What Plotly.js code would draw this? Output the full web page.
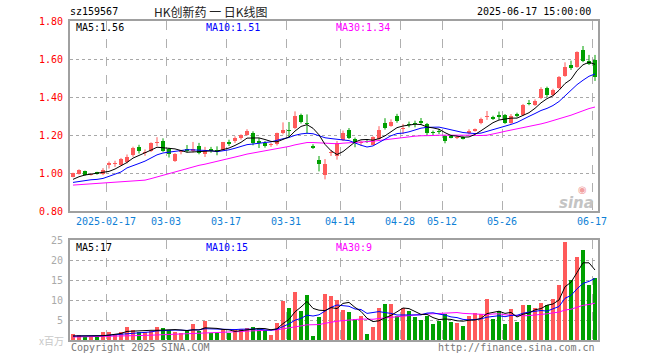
<!DOCTYPE html>
<html>
<head>
<meta charset="utf-8">
<script src="https://cdn.plot.ly/plotly-3.0.1.min.js"></script>
<style>html,body{margin:0;padding:0;background:#fff}#chart{width:660px;height:360px}</style>
</head>
<body>
<div id="chart"></div>
<script>
// ---- data ----
const dates = [
 '2025-02-07','2025-02-10','2025-02-11','2025-02-12','2025-02-13','2025-02-14',
 '2025-02-17','2025-02-18','2025-02-19','2025-02-20','2025-02-21',
 '2025-02-24','2025-02-25','2025-02-26','2025-02-27','2025-02-28',
 '2025-03-03','2025-03-04','2025-03-05','2025-03-06','2025-03-07',
 '2025-03-10','2025-03-11','2025-03-12','2025-03-13','2025-03-14',
 '2025-03-17','2025-03-18','2025-03-19','2025-03-20','2025-03-21',
 '2025-03-24','2025-03-25','2025-03-26','2025-03-27','2025-03-28',
 '2025-03-31','2025-04-01','2025-04-02','2025-04-03',
 '2025-04-07','2025-04-08','2025-04-09','2025-04-10','2025-04-11',
 '2025-04-14','2025-04-15','2025-04-16','2025-04-17','2025-04-18',
 '2025-04-21','2025-04-22','2025-04-23','2025-04-24','2025-04-25',
 '2025-04-28','2025-04-29','2025-04-30',
 '2025-05-06','2025-05-07','2025-05-08','2025-05-09',
 '2025-05-12','2025-05-13','2025-05-14','2025-05-15','2025-05-16',
 '2025-05-19','2025-05-20','2025-05-21','2025-05-22','2025-05-23',
 '2025-05-26','2025-05-27','2025-05-28','2025-05-29','2025-05-30',
 '2025-06-03','2025-06-04','2025-06-05','2025-06-06',
 '2025-06-09','2025-06-10','2025-06-11','2025-06-12','2025-06-13',
 '2025-06-16','2025-06-17'
];
const open = [
 0.982,0.996,1.012,0.992,1.005,0.994,1.046,1.050,1.046,1.060,
 1.094,1.140,1.106,1.119,1.160,1.170,1.127,1.065,1.110,1.126,
 1.117,1.145,1.100,1.130,1.121,1.121,1.167,1.168,1.184,1.203,
 1.212,1.165,1.160,1.148,1.156,1.210,1.225,1.237,1.307,1.263,
 1.144,1.072,0.991,1.105,1.092,1.175,1.228,1.181,1.160,1.170,
 1.151,1.181,1.267,1.249,1.304,1.232,1.257,1.262,1.274,1.260,
 1.212,1.222,1.195,1.190,1.185,1.186,1.211,1.225,1.263,1.298,
 1.296,1.305,1.305,1.267,1.314,1.305,1.369,1.360,1.396,1.449,
 1.412,1.449,1.512,1.570,1.561,1.649,1.593,1.597
];
const high = [
 1.003,1.021,1.014,0.998,1.008,1.027,1.062,1.066,1.081,1.099,
 1.140,1.150,1.126,1.163,1.190,1.184,1.134,1.106,1.123,1.149,
 1.165,1.160,1.139,1.139,1.142,1.165,1.177,1.195,1.205,1.232,
 1.221,1.186,1.170,1.160,1.214,1.268,1.270,1.326,1.314,1.310,
 1.153,1.091,1.075,1.123,1.170,1.225,1.238,1.188,1.172,1.178,
 1.195,1.248,1.290,1.284,1.313,1.260,1.272,1.277,1.291,1.265,
 1.225,1.234,1.202,1.202,1.200,1.195,1.232,1.236,1.293,1.328,
 1.303,1.325,1.312,1.312,1.319,1.365,1.386,1.389,1.453,1.456,
 1.445,1.512,1.584,1.593,1.642,1.670,1.623,1.623
];
const low = [
 0.979,0.993,0.988,0.988,0.993,0.990,1.025,1.034,1.040,1.052,
 1.087,1.104,1.092,1.112,1.143,1.113,1.083,1.060,1.100,1.110,
 1.110,1.100,1.086,1.108,1.095,1.118,1.144,1.160,1.177,1.198,
 1.147,1.133,1.135,1.139,1.146,1.205,1.190,1.232,1.262,1.209,
 1.128,1.010,0.968,1.091,1.072,1.170,1.180,1.137,1.145,1.160,
 1.148,1.176,1.230,1.245,1.266,1.207,1.242,1.242,1.256,1.198,
 1.198,1.207,1.158,1.184,1.180,1.178,1.205,1.219,1.258,1.281,
 1.281,1.281,1.260,1.260,1.295,1.302,1.358,1.355,1.390,1.400,
 1.405,1.445,1.508,1.544,1.555,1.585,1.570,1.486
];
const close = [
 1.000,1.018,0.991,0.995,0.995,1.020,1.049,1.053,1.076,1.087,
 1.135,1.117,1.113,1.158,1.163,1.119,1.099,1.103,1.115,1.119,
 1.126,1.108,1.118,1.118,1.112,1.163,1.154,1.186,1.200,1.223,
 1.160,1.162,1.144,1.150,1.212,1.228,1.221,1.300,1.272,1.259,
 1.133,1.049,1.047,1.107,1.158,1.210,1.186,1.163,1.165,1.166,
 1.190,1.228,1.237,1.272,1.274,1.234,1.254,1.258,1.263,1.210,
 1.210,1.219,1.168,1.188,1.193,1.183,1.225,1.233,1.286,1.300,
 1.288,1.295,1.267,1.302,1.300,1.360,1.366,1.382,1.446,1.410,
 1.439,1.507,1.560,1.556,1.639,1.593,1.575,1.505
];
// volume, millions
const volume = [
 1.5,1.25,0.65,0.8,0.65,2.0,2.0,1.5,2.0,3.25,
 2.5,2.1,2.0,2.25,3.25,3.0,2.5,2.0,1.75,2.5,
 4.0,2.25,4.75,1.75,1.75,2.75,1.75,2.75,2.75,3.0,
 3.25,2.75,2.5,1.25,4.25,9.75,8.0,12.0,7.25,11.25,
 1.0,5.75,11.5,11.0,10.0,7.5,7.0,5.25,6.0,1.5,
 3.25,8.0,9.0,9.0,6.0,8.0,7.25,5.75,5.0,6.0,
 4.0,4.75,6.5,4.5,4.25,3.5,6.0,6.75,6.5,10.25,
 5.25,7.25,4.0,7.75,4.5,8.75,8.75,8.0,9.25,8.75,
 10.25,13.75,24.5,15.0,20.75,22.5,13.75,15.5
];
// moving-average values before enough in-window data exists
const priceMA5Lead  = [0.968,0.982,0.991,0.995];
const priceMA10Lead = [0.952,0.957,0.961,0.966,0.968,0.973,0.984,0.995,1.007];
const priceMA30Lead = [0.938,0.940,0.942,0.944,0.946,0.948,0.950,0.952,0.954,0.956,
                       0.958,0.960,0.964,0.972,0.981,0.990,0.999,1.008,1.017,1.026,
                       1.035,1.042,1.048,1.055,1.061,1.069,1.077,1.085,1.093];
const volMA5Lead  = [1.0,1.0,1.0,1.0];
const volMA10Lead = [1.0,1.0,1.0,1.05,1.05,1.1,1.2,1.3,1.4];
const volMA30Lead = [0.75,0.77,0.79,0.81,0.83,0.85,0.87,0.9,0.95,1.0,
                     1.05,1.1,1.15,1.2,1.25,1.3,1.37,1.42,1.48,1.54,
                     1.6,1.67,1.73,1.8,1.86,1.92,1.98,2.05,2.12];
const tickDates  = ['2025-02-17','2025-03-03','2025-03-17','2025-03-31','2025-04-14','2025-04-28','2025-05-12','2025-05-26','2025-06-17'];
const tickLabels = ['2025-02-17','03-03','03-17','03-31','04-14','04-28','05-12','05-26','06-17'];
const priceTicks = [0.8,1.0,1.2,1.4,1.6,1.8];
const priceTickText = ['0.80','1.00','1.20','1.40','1.60','1.80'];
const volTicks = [5,10,15,20,25];
const volTickText = ['5','10','15','20','25'];

// ---- drawing ----
const RED = '#ff5a5a', GREEN = '#00a000';
const idx = dates.map((d, i) => i);
function ma(arr, n, lead) {
  return arr.map((v, i) => {
    if (i < n - 1) return lead[i];
    let s = 0; for (let k = i - n + 1; k <= i; k++) s += arr[k];
    return s / n;
  });
}
const up = close.map((c, i) => c >= open[i]);
const colors = up.map(u => u ? RED : GREEN);
const tickPos = tickDates.map(d => dates.indexOf(d) - 0.5);
const MONO = 'DejaVu Sans Mono';
const W = 660, H = 360;
const px = x => x / W, py = y => 1 - y / H;
const MIN_BODY = 0.006; // so a doji body still shows as a 1px line

function wickTrace(isUp) {
  const xs = [], ys = [];
  idx.forEach(i => { if (up[i] === isUp) { xs.push(i, i, null); ys.push(low[i], high[i], null); } });
  return {type:'scatter', mode:'lines', x: xs, y: ys, line:{color: isUp ? RED : GREEN, width:1},
          xaxis:'x', yaxis:'y', showlegend:false, hoverinfo:'skip', connectgaps:false};
}
const bodyBase = idx.map(i => Math.min(open[i], close[i]));
const bodyLen = idx.map(i => Math.max(Math.abs(close[i] - open[i]), MIN_BODY));

const traces = [
  wickTrace(true), wickTrace(false),
  {type:'bar', x: idx, y: bodyLen, base: bodyBase, width:0.82, marker:{color: colors, line:{width:0}},
   xaxis:'x', yaxis:'y', showlegend:false, hoverinfo:'skip'},
  {type:'scatter', mode:'lines', x: idx, y: ma(close,30,priceMA30Lead), line:{color:'#ff00ff',width:1}, xaxis:'x', yaxis:'y', showlegend:false, hoverinfo:'skip'},
  {type:'scatter', mode:'lines', x: idx, y: ma(close,10,priceMA10Lead), line:{color:'#0000ff',width:1}, xaxis:'x', yaxis:'y', showlegend:false, hoverinfo:'skip'},
  {type:'scatter', mode:'lines', x: idx, y: ma(close,5,priceMA5Lead), line:{color:'#000000',width:1}, xaxis:'x', yaxis:'y', showlegend:false, hoverinfo:'skip'},
  {type:'bar', x: idx, y: volume, marker:{color: colors, line:{width:0}}, width:0.83, xaxis:'x2', yaxis:'y2', showlegend:false, hoverinfo:'skip'},
  {type:'scatter', mode:'lines', x: idx, y: ma(volume,30,volMA30Lead), line:{color:'#ff00ff',width:1}, xaxis:'x2', yaxis:'y2', showlegend:false, hoverinfo:'skip'},
  {type:'scatter', mode:'lines', x: idx, y: ma(volume,10,volMA10Lead), line:{color:'#0000ff',width:1}, xaxis:'x2', yaxis:'y2', showlegend:false, hoverinfo:'skip'},
  {type:'scatter', mode:'lines', x: idx, y: ma(volume,5,volMA5Lead), line:{color:'#000000',width:1}, xaxis:'x2', yaxis:'y2', showlegend:false, hoverinfo:'skip'}
];

const frame = {showline:true, mirror:true, linecolor:'#a0a0a0', linewidth:2, zeroline:false, ticks:''};
const xdom = [px(70), px(598)];
const layout = {
  width: W, height: H, margin:{l:0,r:0,t:0,b:0},
  paper_bgcolor:'#fff', plot_bgcolor:'#fff',
  hovermode:false, showlegend:false, barmode:'overlay', bargap:0,
  font:{family:MONO, size:10},
  xaxis: Object.assign({}, frame, {domain:xdom, anchor:'y', range:[-0.5, idx.length-0.5],
    tickmode:'array', tickvals: tickPos, ticktext: tickLabels,
    showgrid:true, gridcolor:'#b0b0b0', griddash:'dash', gridwidth:1,
    tickfont:{family:MONO,size:10,color:'#0f7fd6'}, ticklabelstandoff:0, fixedrange:true}),
  yaxis: Object.assign({}, frame, {domain:[py(211.3), py(21.3)], anchor:'x', range:[0.8,1.8],
    tickmode:'array', tickvals: priceTicks, ticktext: priceTickText,
    showgrid:true, gridcolor:'#a8a8a8', griddash:'dot', gridwidth:1,
    tickfont:{family:MONO,size:10,color:'#ff0000'}, ticklabelstandoff:3, fixedrange:true}),
  xaxis2: Object.assign({}, frame, {domain:xdom, anchor:'y2', range:[-0.5, idx.length-0.5],
    tickmode:'array', tickvals: tickPos, showticklabels:false,
    showgrid:true, gridcolor:'#b0b0b0', griddash:'dash', gridwidth:1, fixedrange:true}),
  yaxis2: Object.assign({}, frame, {domain:[py(340), py(240)], anchor:'x2', range:[0,25],
    tickmode:'array', tickvals: volTicks, ticktext: volTickText,
    showgrid:true, gridcolor:'#a8a8a8', griddash:'dot', gridwidth:1,
    tickfont:{family:MONO,size:10,color:'#aaaaaa'}, ticklabelstandoff:3, fixedrange:true}),
  annotations: [
    {text:'sz159567', x:px(68), y:py(12), xanchor:'left', yanchor:'middle', font:{family:MONO,size:10,color:'#000'}},
    {text:'HK创新药 一 日K线图', x:px(211), y:py(12), xanchor:'center', yanchor:'middle', font:{family:'Noto Sans CJK SC',size:12,color:'#222'}},
    {text:'2025-06-17 15:00:00', x:px(593), y:py(12), xanchor:'right', yanchor:'middle', font:{family:MONO,size:10,color:'#000'}},
    {text:'MA5:1.56', x:px(74), y:py(28), xanchor:'left', yanchor:'middle', font:{family:MONO,size:10,color:'#000'}},
    {text:'MA10:1.51', x:px(204), y:py(28), xanchor:'left', yanchor:'middle', font:{family:MONO,size:10,color:'#0000ff'}},
    {text:'MA30:1.34', x:px(334), y:py(28), xanchor:'left', yanchor:'middle', font:{family:MONO,size:10,color:'#ff00ff'}},
    {text:'MA5:17', x:px(74), y:py(247), xanchor:'left', yanchor:'middle', font:{family:MONO,size:10,color:'#000'}},
    {text:'MA10:15', x:px(204), y:py(247), xanchor:'left', yanchor:'middle', font:{family:MONO,size:10,color:'#0000ff'}},
    {text:'MA30:9', x:px(334), y:py(247), xanchor:'left', yanchor:'middle', font:{family:MONO,size:10,color:'#ff00ff'}},
    {text:'x百万', x:px(66), y:py(340), xanchor:'right', yanchor:'middle', font:{family:'Noto Sans CJK SC',size:10,color:'#c8c8c8'}},
    {text:'Copyright 2025 SINA.COM', x:px(69), y:py(347), xanchor:'left', yanchor:'middle', font:{family:MONO,size:10,color:'#777'}},
    {text:'http://finance.sina.com.cn', x:px(597), y:py(347), xanchor:'right', yanchor:'middle', font:{family:MONO,size:10,color:'#777'}},
    {text:'<b><i>sina</i></b>', x:px(596), y:py(203), xanchor:'right', yanchor:'middle', font:{family:'DejaVu Sans',size:15,color:'#c4c4c4'}},
    {text:'◉', x:px(582), y:py(189), xanchor:'center', yanchor:'middle', font:{family:'DejaVu Sans',size:10,color:'#f2a0a0'}}
  ].map(a => Object.assign({xref:'paper', yref:'paper', showarrow:false}, a))
};
Plotly.newPlot('chart', traces, layout, {staticPlot:true, displayModeBar:false});
</script>
</body>
</html>
